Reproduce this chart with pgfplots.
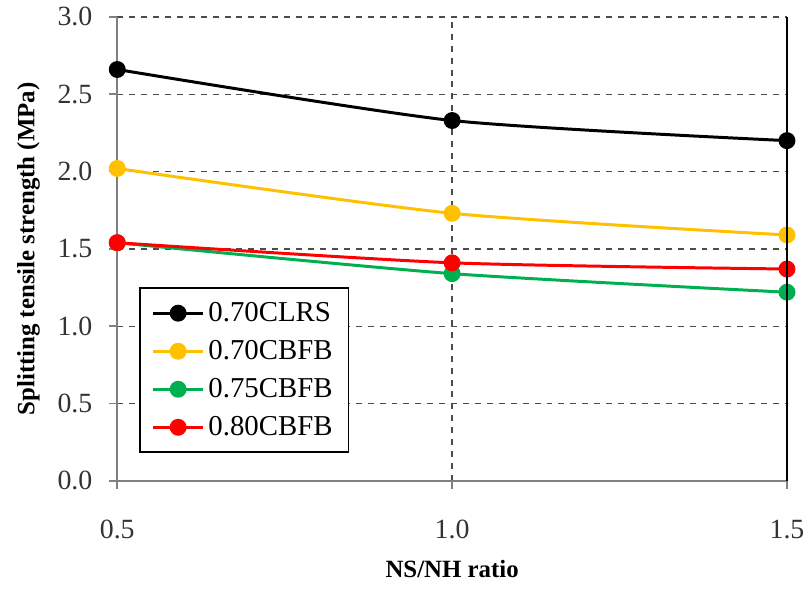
\documentclass[border=0pt]{standalone}
\usepackage{pgfplots}
\pgfplotsset{compat=1.18}
\usepackage{fontspec}
\setmainfont{Liberation Serif}
\definecolor{cblack}{HTML}{000000}
\definecolor{cyellow}{HTML}{FFC000}
\definecolor{cgreen}{HTML}{00B050}
\definecolor{cred}{HTML}{FF0000}
\begin{document}
\begin{tikzpicture}
\begin{axis}[name=ax,
  scale only axis, width=337pt, height=233.5pt,
  xmin=0.5, xmax=1.5, ymin=0, ymax=3,
  xtick={0.5,1.0,1.5}, ytick={0,0.5,...,3.0},
  xticklabel style={/pgf/number format/fixed,/pgf/number format/fixed zerofill,/pgf/number format/precision=1},
  yticklabel style={/pgf/number format/fixed,/pgf/number format/fixed zerofill,/pgf/number format/precision=1},
  /pgf/number format/assume math mode=true,
  tick label style={font=\fontsize{14}{16}\selectfont, text=black!80},
  xticklabel shift=12pt, yticklabel shift=5pt,
  axis line style={gray, line width=1pt},
  axis x line*=bottom, axis y line*=left,
  tick style={gray, line width=0.8pt},
  major tick length=4pt,
  tick align=outside,
  grid=major, grid style={dashed, black!70, line width=0.7pt},
  xlabel={\textbf{NS/NH ratio}}, ylabel={\textbf{Splitting tensile strength (MPa)}},
  label style={font=\fontsize{12.5}{14}\selectfont},
  xlabel style={yshift=-4pt},
  ylabel style={yshift=2pt},
  legend style={at={(rel axis cs:0.0326,0.06)}, anchor=south west, draw=black, line width=0.8pt,
    font=\fontsize{14.5}{16}\selectfont, row sep=4pt, inner xsep=6pt, inner ysep=5pt},
  legend cell align=left,
  legend image code/.code={\draw[mark repeat=2,mark phase=2] plot coordinates {(0pt,0pt) (12.5pt,0pt) (25pt,0pt)};},
  every axis plot/.append style={line width=1.5pt, smooth, tension=0.4, mark=*, mark size=3.5pt},
  clip=false,
]
\addplot[color=cblack, mark options={fill=cblack}] coordinates {(0.5,2.66) (1.0,2.33) (1.5,2.20)};
\addlegendentry{0.70CLRS}
\addplot[color=cyellow, mark options={fill=cyellow}] coordinates {(0.5,2.02) (1.0,1.73) (1.5,1.59)};
\addlegendentry{0.70CBFB}
\addplot[color=cgreen, mark options={fill=cgreen}] coordinates {(0.5,1.54) (1.0,1.34) (1.5,1.22)};
\addlegendentry{0.75CBFB}
\addplot[color=cred, mark options={fill=cred}] coordinates {(0.5,1.54) (1.0,1.41) (1.5,1.37)};
\addlegendentry{0.80CBFB}
\end{axis}
\draw[black, line width=0.8pt] (ax.south east) -- (ax.north east);
\path[use as bounding box] ([xshift=-59pt,yshift=-54pt]ax.south west) rectangle ([xshift=9.5pt,yshift=8.5pt]ax.north east);
\end{tikzpicture}
\end{document}
